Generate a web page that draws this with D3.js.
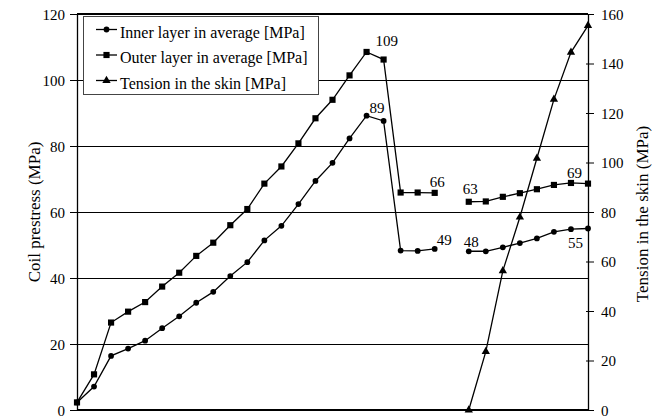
<!DOCTYPE html>
<html>
<head>
<meta charset="utf-8">
<script src="https://cdn.jsdelivr.net/npm/d3@7"></script>
<style>
  html, body { margin: 0; padding: 0; background: #fff; }
  svg { display: block; }
  svg text { font-family: "Liberation Serif", "Times New Roman", serif !important; fill: #000; }
</style>
</head>
<body>
<svg id="chart" width="652" height="418" font-family="Liberation Serif, serif"></svg>
<script>
// ---- data (x = step index 0..30; null = gap) ----
const steps = d3.range(0, 31);
const innerLayer = [2.3, 7.1, 16.4, 18.6, 21.0, 24.8, 28.4, 32.5, 35.8, 40.6, 44.8, 51.4, 55.8, 62.4, 69.4, 74.9, 82.3, 89.2, 87.6, 48.3, 48.2, 48.8, null, 48.1, 48.1, 49.3, 50.6, 52.0, 54.0, 54.8, 55.0];
const outerLayer = [2.3, 10.8, 26.5, 29.8, 32.7, 37.4, 41.6, 46.7, 50.7, 56.0, 60.9, 68.6, 73.8, 80.8, 88.4, 94.0, 101.4, 108.5, 106.2, 65.9, 65.9, 65.8, null, 63.1, 63.2, 64.6, 65.7, 66.9, 68.2, 68.8, 68.6];
const skinTension = [null, null, null, null, null, null, null, null, null, null, null, null, null, null, null, null, null, null, null, null, null, null, null, 0, 23.6, 56.2, 77.9, 101.7, 125.5, 144.5, 155.3];
const seriesNames = ["Inner layer in average [MPa]", "Outer layer in average [MPa]", "Tension in the skin [MPa]"];
const leftTicks = [0, 20, 40, 60, 80, 100, 120];
const rightTicks = [0, 20, 40, 60, 80, 100, 120, 140, 160];
const leftTitle = "Coil prestress (MPa)";
const rightTitle = "Tension in the skin (MPa)";
// value annotations: series key, step index, text
const annotations = [
  { series: "outer", index: 17, text: "109" },
  { series: "inner", index: 17, text: "89" },
  { series: "outer", index: 21, text: "66" },
  { series: "inner", index: 21, text: "49" },
  { series: "outer", index: 23, text: "63" },
  { series: "inner", index: 23, text: "48" },
  { series: "outer", index: 29, text: "69" },
  { series: "inner", index: 29, text: "55" }
];

// ---- layout ----
const FONT = '"Liberation Serif", "Times New Roman", serif';
const svg = d3.select("#chart");
const L = 77, R = 588, T = 14, B = 410;

const x = d3.scaleLinear().domain([0, 30]).range([L, R]);
const yL = d3.scaleLinear().domain([0, 120]).range([B, T]);
const yR = d3.scaleLinear().domain([0, 160]).range([B, T]);

// gridlines (left axis)
svg.append("g").selectAll("line")
  .data(leftTicks.filter(v => v > 0 && v < 120))
  .join("line")
  .attr("x1", L).attr("x2", R)
  .attr("y1", d => yL(d)).attr("y2", d => yL(d))
  .attr("stroke", "#000").attr("stroke-width", 1)
  .attr("shape-rendering", "crispEdges");

// frame top & bottom
svg.append("line").attr("x1", L).attr("x2", R).attr("y1", T).attr("y2", T)
  .attr("stroke", "#000").attr("stroke-width", 1.3).attr("shape-rendering", "crispEdges");
svg.append("line").attr("x1", L).attr("x2", R).attr("y1", B).attr("y2", B)
  .attr("stroke", "#000").attr("stroke-width", 1.3).attr("shape-rendering", "crispEdges");

// left axis
const gL = svg.append("g").attr("transform", `translate(${L},0)`)
  .call(d3.axisLeft(yL).tickValues(leftTicks).tickSize(8).tickPadding(4).tickSizeOuter(0));
gL.attr("font-family", FONT).attr("font-size", 15);
gL.selectAll(".tick line").attr("x1", 2).attr("x2", -7);
gL.selectAll("text").attr("dy", "0.36em").style("font-family", FONT);
gL.select(".domain").attr("stroke-width", 1.3);

// right axis
const gR = svg.append("g").attr("transform", `translate(${R},0)`)
  .call(d3.axisRight(yR).tickValues(rightTicks).tickSize(6).tickPadding(7).tickSizeOuter(0));
gR.attr("font-family", FONT).attr("font-size", 15);
gR.selectAll(".tick line").attr("x1", -2).attr("x2", 6);
gR.selectAll("text").attr("dy", "0.36em").style("font-family", FONT);
gR.select(".domain").attr("stroke-width", 1.3);

// axis titles
svg.append("text")
  .attr("transform", `translate(40,${(T + B) / 2}) rotate(-90)`)
  .attr("text-anchor", "middle").attr("font-size", 17).attr("font-family", FONT)
  .text(leftTitle);
svg.append("text")
  .attr("transform", `translate(648,${(T + B) / 2 + 2}) rotate(-90)`)
  .attr("text-anchor", "middle").attr("font-size", 17).attr("font-family", FONT)
  .text(rightTitle);

// series
const series = [
  { key: "inner", values: innerLayer, y: yL, symbol: d3.symbolCircle, size: 26 },
  { key: "outer", values: outerLayer, y: yL, symbol: d3.symbolSquare, size: 38 },
  { key: "skin", values: skinTension, y: yR, symbol: d3.symbolTriangle, size: 30 }
];

series.forEach(s => {
  const pts = steps.map(i => ({ i, v: s.values[i] }));
  const line = d3.line()
    .defined(d => d.v != null)
    .x(d => x(d.i)).y(d => s.y(d.v));
  svg.append("path").datum(pts)
    .attr("d", line).attr("fill", "none")
    .attr("stroke", "#000").attr("stroke-width", 1.3);
  svg.append("g").selectAll("path")
    .data(pts.filter(d => d.v != null))
    .join("path")
    .attr("transform", d => `translate(${x(d.i)},${s.y(d.v)})`)
    .attr("d", d3.symbol(s.symbol, s.size))
    .attr("fill", "#000");
});

// annotations
const offs = {
  "outer-17": [9, -6], "inner-17": [3, -3],
  "outer-21": [-5, -6], "inner-21": [2, -4],
  "outer-23": [-6, -8], "inner-23": [-5, -4],
  "outer-29": [-4, -5], "inner-29": [-3, 19]
};
const seriesByKey = Object.fromEntries(series.map(s => [s.key, s]));
svg.append("g").selectAll("text")
  .data(annotations)
  .join("text")
  .attr("x", d => x(d.index) + offs[d.series + "-" + d.index][0])
  .attr("y", d => seriesByKey[d.series].y(seriesByKey[d.series].values[d.index]) + offs[d.series + "-" + d.index][1])
  .attr("font-size", 15).attr("font-family", FONT)
  .text(d => d.text);

// legend
const lg = svg.append("g");
lg.append("rect").attr("x", 83.5).attr("y", 16.5).attr("width", 235).attr("height", 78)
  .attr("fill", "#fff").attr("stroke", "#444").attr("stroke-width", 1);
const rowY = [29.5, 55, 80.5];
series.forEach((s, k) => {
  const g = lg.append("g").attr("transform", `translate(0,${rowY[k]})`);
  g.append("line").attr("x1", 96).attr("x2", 117).attr("y1", 0).attr("y2", 0)
    .attr("stroke", "#000").attr("stroke-width", 1.3);
  g.append("path").attr("transform", "translate(106.5,0)")
    .attr("d", d3.symbol(s.symbol, s.size)).attr("fill", "#000");
  g.append("text").attr("x", 120).attr("y", 8).attr("font-size", 16).attr("font-family", FONT)
    .text(seriesNames[k]);
});
</script>
</body>
</html>
